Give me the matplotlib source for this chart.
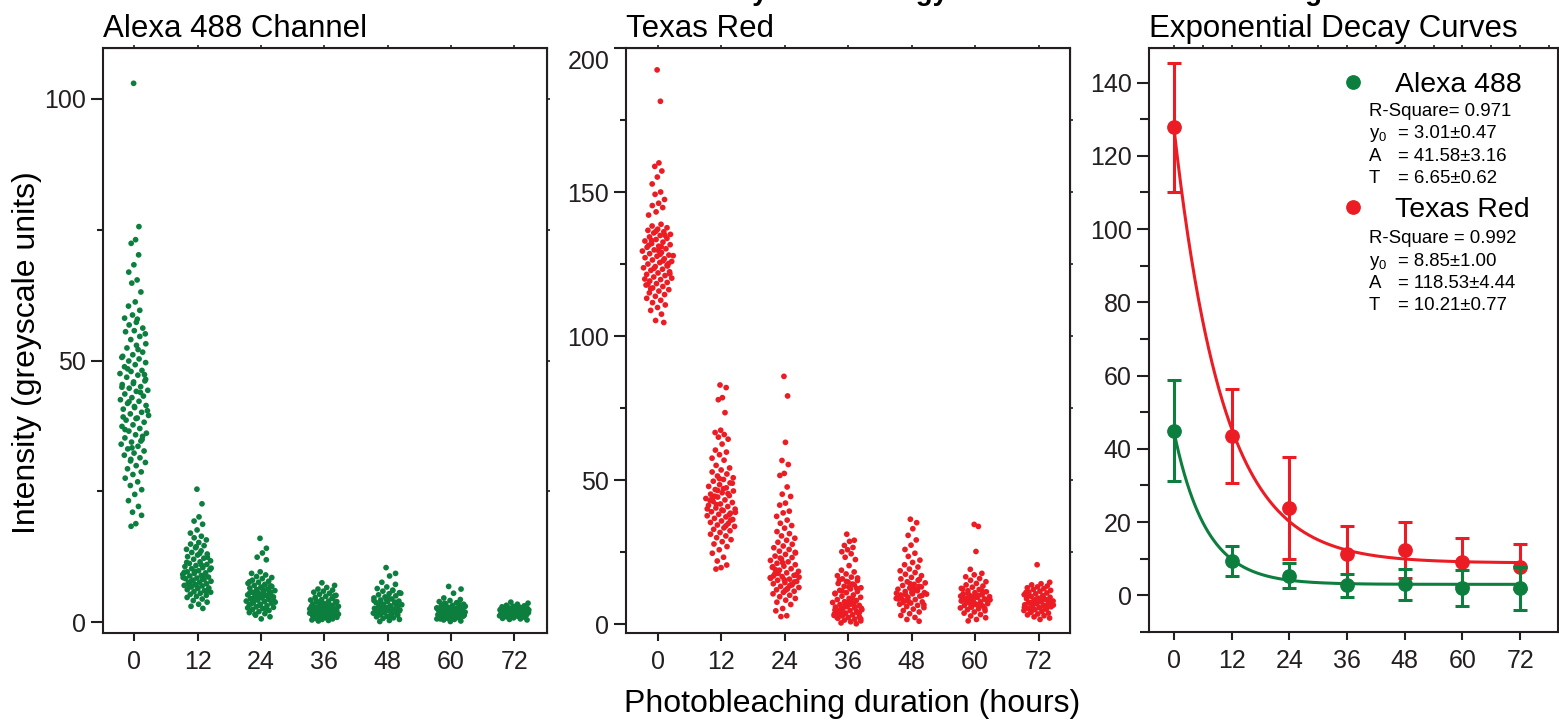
import numpy as np
import matplotlib
matplotlib.use("Agg")
import matplotlib.pyplot as plt
from matplotlib.lines import Line2D

plt.rcParams['font.family'] = ['Liberation Sans', 'DejaVu Sans']
plt.rcParams['mathtext.fontset'] = 'custom'
plt.rcParams['mathtext.rm'] = 'Liberation Sans'
plt.rcParams['mathtext.it'] = 'Liberation Sans'

# ---------------- data ----------------
hours = [0, 12, 24, 36, 48, 60, 72]
hour_labels = ['0', '12', '24', '36', '48', '60', '72']

alexa_0 = [103.0, 75.6, 73.1, 72.4, 70.2, 68.3, 66.9, 65.4, 64.8, 63.1, 61.2, 60.4, 59.6, 58.7, 58.1, 57.9,
           56.8, 56.2, 55.7, 55.5, 54.6, 54.0, 53.2, 52.9, 52.4, 51.6, 51.1, 50.8, 50.3, 49.9, 49.6, 49.2,
           48.8, 48.1, 47.9, 47.5, 47.2, 46.8, 46.1, 45.9, 45.4, 45.0, 44.7, 44.3, 44.1, 43.6, 43.2, 42.9,
           42.5, 42.2, 41.8, 41.4, 41.0, 40.7, 40.1, 39.8, 39.5, 39.0, 38.6, 38.2, 37.7, 37.4, 37.0, 36.5,
           36.1, 35.8, 35.2, 34.9, 34.4, 34.0, 33.6, 33.1, 32.7, 32.3, 31.9, 31.4, 30.8, 30.5, 29.9, 29.3,
           28.7, 28.2, 27.5, 26.8, 26.1, 25.3, 24.4, 23.2, 22.1, 21.0, 20.4, 18.8, 18.3, 47.3, 45.6, 44.9,
           43.9, 42.1, 40.4, 38.9, 36.8, 35.5, 33.3, 50.6, 52.1, 48.4, 46.4, 41.2, 39.2, 34.6, 31.1, 55.1, 57.3]
alexa_12 = [25.4, 22.6, 20.1, 19.3, 18.7, 17.6, 17.0, 16.4, 16.1, 15.7, 15.2, 14.9, 14.6, 14.2, 13.9, 13.6,
            13.3, 13.0, 12.8, 12.5, 12.2, 12.0, 11.7, 11.5, 11.2, 11.0, 10.8, 10.6, 10.4, 10.2, 10.0, 9.8,
            9.6, 9.4, 9.3, 9.1, 8.9, 8.8, 8.6, 8.4, 8.3, 8.1, 7.9, 7.8, 7.6, 7.5, 7.3, 7.2, 7.0, 6.9, 6.7,
            6.5, 6.4, 6.2, 6.0, 5.8, 5.7, 5.5, 5.3, 5.1, 4.9, 4.7, 4.4, 4.1, 3.8, 3.4, 3.0, 2.6, 9.7, 8.5,
            10.9, 7.7, 12.4, 6.6, 11.4, 9.0, 8.0, 10.3, 13.1, 7.1, 5.9, 14.4, 9.5, 8.2, 6.8]
alexa_24 = [16.0, 14.1, 13.2, 12.4, 11.9, 9.6, 9.3, 9.0, 8.7, 8.5, 8.3, 8.0, 7.8, 7.6, 7.4, 7.2, 7.0, 6.8,
            6.7, 6.5, 6.3, 6.1, 6.0, 5.8, 5.7, 5.5, 5.4, 5.2, 5.1, 4.9, 4.8, 4.6, 4.5, 4.3, 4.2, 4.0, 3.9,
            3.7, 3.6, 3.4, 3.3, 3.1, 2.9, 2.8, 2.6, 2.4, 2.2, 2.0, 1.8, 1.6, 1.3, 1.0, 0.6, 5.6, 4.7, 6.2,
            3.8, 5.0, 4.4, 6.9, 3.2, 7.7, 2.5, 5.3, 4.1, 6.4, 3.5, 5.9, 4.9, 2.7, 7.1, 1.5]
alexa_36 = [7.5, 7.0, 6.6, 6.3, 6.1, 5.9, 5.7, 5.5, 5.3, 5.1, 4.9, 4.7, 4.5, 4.3, 4.2, 4.0, 3.8, 3.7, 3.5,
            3.4, 3.2, 3.1, 3.0, 2.9, 2.8, 2.7, 2.6, 2.5, 2.4, 2.3, 2.2, 2.1, 2.0, 1.9, 1.8, 1.7, 1.6, 1.5,
            1.4, 1.3, 1.2, 1.1, 1.0, 0.9, 0.8, 0.7, 0.6, 0.5, 0.4, 0.3, 0.2, 2.6, 3.3, 1.8, 2.2, 3.6, 1.5,
            2.9, 4.1, 1.2, 2.4, 3.0, 0.9, 2.0, 3.9, 1.6, 2.7, 4.6, 1.0, 2.5, 3.4, 0.6, 5.0, 1.9, 2.8, 3.1]
alexa_48 = [10.4, 9.3, 8.8, 7.6, 7.2, 6.7, 6.4, 6.1, 5.9, 5.6, 5.4, 5.2, 5.0, 4.8, 4.6, 4.4, 4.2, 4.0, 3.9,
            3.7, 3.6, 3.4, 3.3, 3.1, 3.0, 2.9, 2.8, 2.6, 2.5, 2.4, 2.3, 2.2, 2.0, 1.9, 1.8, 1.7, 1.5, 1.4,
            1.3, 1.1, 1.0, 0.8, 0.7, 0.5, 0.3, 0.1, 3.2, 2.7, 4.1, 1.6, 3.5, 2.1, 4.7, 1.2, 3.8, 2.5, 5.5,
            0.9, 3.0, 2.3, 4.3, 1.8, 6.0, 2.9]
alexa_60 = [6.8, 6.3, 5.5, 4.6, 4.3, 4.1, 3.9, 3.7, 3.5, 3.4, 3.2, 3.1, 3.0, 2.8, 2.7, 2.6, 2.5, 2.4, 2.3,
            2.2, 2.1, 2.0, 1.9, 1.8, 1.7, 1.6, 1.5, 1.4, 1.3, 1.2, 1.1, 1.0, 0.9, 0.8, 0.7, 0.6, 0.5, 0.4,
            0.2, 0.1, 2.2, 1.7, 2.9, 1.3, 2.4, 0.9, 3.3, 1.9, 2.6, 1.1, 3.6, 1.5, 2.0, 0.6, 2.8, 1.4, 3.0,
            2.5, 1.0, 2.1]
alexa_72 = [3.8, 3.6, 3.4, 3.2, 3.1, 3.0, 2.9, 2.8, 2.7, 2.6, 2.5, 2.5, 2.4, 2.3, 2.3, 2.2, 2.1, 2.1, 2.0,
            2.0, 1.9, 1.9, 1.8, 1.8, 1.7, 1.7, 1.6, 1.6, 1.5, 1.5, 1.4, 1.4, 1.3, 1.3, 1.2, 1.2, 1.1, 1.0,
            0.9, 0.8, 0.7, 0.6, 0.5, 0.4, 2.2, 1.9, 2.6, 1.5, 2.4, 1.2, 2.0, 1.7, 2.8, 1.4, 2.1, 1.0, 2.3,
            1.8, 1.6, 2.7, 1.1, 2.0]

texas_0 = [192.4, 181.5, 160.1, 158.9, 157.3, 155.2, 152.8, 150.0, 149.2, 147.4, 146.1, 145.3, 144.6, 143.1,
           142.0, 138.8, 138.2, 137.6, 137.1, 136.7, 136.2, 135.8, 135.3, 134.9, 134.4, 133.9, 133.5, 133.0,
           132.6, 132.1, 131.7, 131.2, 130.8, 130.3, 129.9, 129.5, 129.0, 128.6, 128.1, 127.7, 127.2, 126.8,
           126.4, 125.9, 125.5, 125.0, 124.6, 124.1, 123.7, 123.2, 122.8, 122.3, 121.9, 121.4, 121.0, 120.5,
           120.1, 119.6, 119.1, 118.6, 118.2, 117.7, 117.2, 116.7, 116.1, 115.6, 115.0, 114.4, 113.8, 113.1,
           112.4, 111.6, 110.8, 109.9, 108.9, 107.6, 105.4, 104.7, 128.4, 131.5, 124.3, 136.4, 119.8, 126.1,
           133.2, 121.6, 129.7, 117.9, 135.0, 123.5, 127.9, 131.0, 116.4, 125.2]
texas_12 = [83.0, 82.1, 78.6, 77.9, 73.4, 67.3, 66.5, 65.8, 64.9, 64.2, 62.5, 60.4, 59.7, 58.8, 57.6, 56.9,
            55.1, 54.2, 53.5, 52.8, 52.1, 51.4, 50.8, 50.2, 49.6, 49.0, 48.4, 47.8, 47.3, 46.7, 46.2, 45.6,
            45.1, 44.6, 44.1, 43.6, 43.1, 42.6, 42.2, 41.7, 41.2, 40.8, 40.3, 39.9, 39.4, 39.0, 38.5, 38.1,
            37.6, 37.2, 36.7, 36.3, 35.8, 35.3, 34.9, 34.4, 33.9, 33.4, 32.9, 32.4, 31.8, 31.2, 30.6, 30.0,
            29.3, 28.6, 27.8, 26.9, 25.8, 24.6, 23.2, 21.9, 20.5, 19.6, 19.1, 45.3, 41.5, 38.8, 47.0, 43.4,
            36.0, 50.5, 40.0, 34.1, 44.4, 48.9, 39.6, 42.9, 37.9, 46.4]
texas_24 = [86.0, 79.2, 63.1, 56.8, 55.4, 52.3, 51.6, 47.6, 45.1, 44.3, 42.0, 41.3, 39.2, 38.6, 37.4, 36.1,
            35.0, 34.2, 33.3, 32.1, 31.4, 30.6, 29.8, 29.1, 28.4, 27.7, 27.1, 26.5, 25.9, 25.3, 24.7, 24.2,
            23.6, 23.1, 22.6, 22.1, 21.6, 21.1, 20.6, 20.1, 19.7, 19.2, 18.7, 18.3, 17.8, 17.4, 16.9, 16.5,
            16.1, 15.6, 15.2, 14.8, 14.4, 14.0, 13.6, 13.1, 12.7, 12.3, 11.9, 11.4, 11.0, 10.5, 10.0, 9.5,
            8.9, 8.3, 7.6, 6.8, 5.4, 4.6, 2.9, 2.6, 17.1, 15.4, 19.9, 13.8, 22.9, 16.3, 12.1, 18.9, 14.6,
            21.3, 15.9, 13.3, 17.6, 24.9, 11.7, 16.7]
texas_36 = [31.2, 29.1, 28.7, 27.3, 26.6, 25.8, 25.1, 24.4, 23.2, 22.4, 20.3, 18.7, 18.1, 17.4, 16.8, 16.3,
            15.7, 15.1, 14.6, 14.1, 13.6, 13.1, 12.6, 12.2, 11.7, 11.3, 10.9, 10.5, 10.1, 9.7, 9.3, 8.9, 8.5,
            8.2, 7.8, 7.5, 7.1, 6.8, 6.5, 6.2, 5.9, 5.6, 5.3, 5.0, 4.7, 4.4, 4.1, 3.8, 3.5, 3.2, 2.9, 2.6,
            2.3, 2.0, 1.7, 1.4, 1.1, 0.8, 0.4, 0.1, 6.1, 4.9, 7.3, 3.6, 5.5, 8.1, 2.7, 4.3, 6.6, 3.0, 9.0,
            5.1, 4.0, 7.0, 2.4, 5.8, 3.3, 1.8, 6.9, 4.6, 12.4, 14.8, 10.7, 13.9, 11.5, 16.0, 12.9, 15.3]
texas_48 = [36.4, 35.2, 33.1, 30.8, 29.2, 27.4, 25.9, 24.6, 23.5, 22.2, 21.4, 20.6, 19.8, 19.1, 18.5, 17.9,
            17.3, 16.8, 16.2, 15.7, 15.2, 14.7, 14.3, 13.8, 13.4, 12.9, 12.5, 12.1, 11.7, 11.3, 10.9, 10.5,
            10.1, 9.7, 9.3, 8.9, 8.5, 8.1, 7.7, 7.3, 6.9, 6.5, 6.1, 5.7, 5.2, 4.7, 4.2, 3.6, 3.0, 2.3, 1.6,
            1.0, 11.0, 9.5, 13.1, 8.3, 10.4, 12.2, 7.5, 9.9, 14.0, 8.7, 11.6, 10.2, 6.7, 12.7, 9.1, 15.5,
            7.9, 10.7]
texas_60 = [34.6, 33.9, 25.2, 19.0, 17.6, 17.1, 16.4, 15.8, 15.2, 14.7, 14.1, 13.6, 13.2, 12.8, 12.4, 12.0,
            11.6, 11.2, 10.9, 10.5, 10.2, 9.8, 9.5, 9.2, 8.9, 8.6, 8.3, 8.0, 7.7, 7.4, 7.1, 6.8, 6.5, 6.2,
            5.9, 5.6, 5.3, 5.0, 4.6, 4.2, 3.8, 3.3, 2.8, 2.2, 1.6, 1.1, 8.7, 7.5, 9.7, 6.6, 10.6, 8.1, 7.0,
            9.0, 11.4, 6.0, 8.4, 10.0, 7.8, 5.4, 9.4, 12.2, 6.9, 8.8]
texas_72 = [20.6, 14.5, 14.0, 13.6, 13.2, 12.9, 12.6, 12.3, 12.0, 11.7, 11.4, 11.1, 10.8, 10.5, 10.2, 9.9,
            9.6, 9.3, 9.0, 8.8, 8.5, 8.2, 8.0, 7.7, 7.5, 7.2, 7.0, 6.7, 6.5, 6.2, 6.0, 5.7, 5.5, 5.2, 5.0,
            4.7, 4.4, 4.1, 3.8, 3.5, 3.2, 2.9, 2.5, 2.1, 1.6, 7.4, 6.3, 8.6, 5.8, 9.4, 7.1, 6.8, 8.1, 10.0,
            5.3, 7.9, 6.6, 9.1, 4.9, 8.4, 7.3, 11.0, 6.1]

alexa_groups = [alexa_0, alexa_12, alexa_24, alexa_36, alexa_48, alexa_60, alexa_72]
texas_groups = [texas_0, texas_12, texas_24, texas_36, texas_48, texas_60, texas_72]

alexa_mean = [45.0, 9.4, 5.3, 2.7, 3.0, 2.0, 1.9]
alexa_sd = [13.8, 4.0, 3.4, 3.1, 4.2, 4.9, 5.9]
texas_mean = [127.8, 43.5, 23.9, 11.2, 12.4, 9.1, 7.8]
texas_sd = [17.6, 12.9, 14.0, 7.8, 7.7, 6.6, 6.1]

alexa_fit = dict(r2='0.971', y0=3.01, y0e=0.47, A=41.58, Ae=3.16, T=6.65, Te=0.62)
texas_fit = dict(r2='0.992', y0=8.85, y0e=1.00, A=118.53, Ae=4.44, T=10.21, Te=0.77)

GREEN = '#0c7f3f'
RED = '#ec1c24'
INK = '#231f20'

# ---------------- figure ----------------
W, H = 1559, 721
fig = plt.figure(figsize=(W / 100, H / 100), dpi=100)


def px_axes(l, r, t, b):
    return fig.add_axes([l / W, (H - b) / H, (r - l) / W, (b - t) / H])


ax1 = px_axes(103.2, 546.6, 48, 633)
ax2 = px_axes(626.3, 1069.7, 48, 633)
ax3 = px_axes(1149.3, 1557.7, 47.7, 632)


def strip_offsets(vals, half_width, bw):
    v = np.asarray(vals, dtype=float)
    dens = np.exp(-0.5 * ((v[:, None] - v[None, :]) / bw) ** 2).sum(axis=1)
    dens = dens / dens.max()
    scale = np.clip(dens ** 0.5, 0.12, 1.0)
    u = ((np.arange(len(v)) * 0.6180339887 + 0.37) % 1.0) * 2 - 1
    return u * half_width * scale


def style_axes(ax, xlim, ylim, ymaj, ymin, ylen=8.6, yminlen=4.5):
    ax.set_xlim(*xlim)
    ax.set_ylim(*ylim)
    ax.set_xticks(hours)
    ax.set_xticklabels(hour_labels)
    ax.set_yticks(ymaj)
    ax.set_yticks(ymin, minor=True)
    for s in ax.spines.values():
        s.set_linewidth(1.5)
        s.set_color(INK)
    ax.tick_params(axis='x', which='major', length=5.8, width=1.5, pad=6.5,
                   labelsize=18, colors=INK, direction='out')
    ax.tick_params(axis='y', which='major', length=ylen, width=1.5, pad=4,
                   labelsize=18, colors=INK, direction='out')
    ax.tick_params(axis='y', which='minor', length=yminlen, width=1.5, colors=INK, direction='out')
    ax.tick_params(axis='x', which='minor', bottom=False)


# Panel 1 : Alexa 488
for h, vals in zip(hours, alexa_groups):
    xs = h + strip_offsets(vals, 2.85, 3.0)
    ax1.scatter(xs, vals, s=17, color=GREEN, edgecolors='none', zorder=3)
style_axes(ax1, (-5.91, 78.1), (-2.1, 109.75), [0, 50, 100], [25, 75])
ax1.set_title('Alexa 488 Channel', loc='left', fontsize=22.5, pad=7.9, color='black')
ax1.set_ylabel('Intensity (greyscale units)', fontsize=23, color='black')
ax1.yaxis.set_label_coords(-0.138, 0.4786)

# Panel 2 : Texas Red
for h, vals in zip(hours, texas_groups):
    xs = h + strip_offsets(vals, 2.95, 5.0)
    ax2.scatter(xs, vals, s=17, color=RED, edgecolors='none', zorder=3)
style_axes(ax2, (-5.96, 77.9), (-3.1, 200.0), [0, 50, 100, 150, 200], [25, 75, 125, 175])
ax2.set_yticklabels(['0', '50', '100', '150', ''])
ax2.annotate('200', xy=(0, 200), xycoords=('axes fraction', 'data'),
             xytext=(-17, -14), textcoords='offset pixels', ha='right', va='center',
             fontsize=18, color=INK, annotation_clip=False)
ax2.set_title('Texas Red', loc='left', fontsize=22.5, pad=7.9, color='black')

# Panel 3 : decay curves
style_axes(ax3, (-5.14, 79.8), (-9.8, 149.5), list(range(0, 141, 20)), list(range(-10, 150, 20)),
           ylen=8.6, yminlen=6.5)
ax3.set_title('Exponential Decay Curves', loc='left', fontsize=22.5, pad=7.9, color='black')

tt = np.linspace(0, 72, 400)
for fit, col in ((texas_fit, RED), (alexa_fit, GREEN)):
    ax3.plot(tt, fit['y0'] + fit['A'] * np.exp(-tt / fit['T']), color=col, lw=2.2, zorder=2)

ax3.errorbar(hours, texas_mean, yerr=texas_sd, fmt='o', ms=9.6, color=RED, ecolor=RED,
             elinewidth=2.2, capsize=4.8, capthick=2.2, zorder=3)
ax3.errorbar(hours, alexa_mean, yerr=alexa_sd, fmt='o', ms=9.6, color=GREEN, ecolor=GREEN,
             elinewidth=2.2, capsize=4.8, capthick=2.2, zorder=4)

# small mirror ticks on top / right
for ax, yt in ((ax1, [25, 50, 75, 100]), (ax2, [25, 50, 75, 100, 125, 150, 175])):
    top = ax.secondary_xaxis('top')
    top.set_xticks(hours)
    top.set_xticklabels([])
    top.tick_params(length=2.5, width=1.2, colors=INK)
    right = ax.secondary_yaxis('right')
    right.set_yticks(yt)
    right.set_yticklabels([])
    right.tick_params(length=2.5, width=1.2, colors=INK)
top3 = ax3.secondary_xaxis('top')
top3.set_xticks(list(range(0, 79, 6)))
top3.set_xticklabels([])
top3.tick_params(length=2.5, width=1.2, colors=INK)

# legend of panel 3
handles = [Line2D([], [], marker='o', ls='none', ms=9.6, color=GREEN),
           Line2D([], [], marker='o', ls='none', ms=9.6, color=RED)]
leg = fig.legend(handles, ['Alexa 488', 'Texas Red'], loc='upper left',
                 bbox_to_anchor=(1338.75 / W, 1 - 71.6 / H), bbox_transform=fig.transFigure,
                 frameon=False, fontsize=20.5, borderpad=0, borderaxespad=0,
                 handlelength=1.0, handletextpad=0.974, labelspacing=3.48)


def fy(py):
    return 1 - py / H


def stats_block(fit, base_ys, r2_label):
    x_lab, x_eq = 1369 / W, 1398 / W
    kw = dict(fontsize=13.4, color='black', va='baseline', ha='left')
    fig.text(x_lab, fy(base_ys[0]), r2_label + fit['r2'], **kw)
    fig.text(x_lab, fy(base_ys[1]), r'$\mathregular{y_0}$', **kw)
    fig.text(x_eq, fy(base_ys[1]), '= %.2f\u00b1%.2f' % (fit['y0'], fit['y0e']), **kw)
    fig.text(x_lab, fy(base_ys[2]), 'A', **kw)
    fig.text(x_eq, fy(base_ys[2]), '= %.2f\u00b1%.2f' % (fit['A'], fit['Ae']), **kw)
    fig.text(x_lab, fy(base_ys[3]), 'T', **kw)
    fig.text(x_eq, fy(base_ys[3]), '= %.2f\u00b1%.2f' % (fit['T'], fit['Te']), **kw)


stats_block(alexa_fit, [115.7, 138.4, 160.7, 183.4], 'R-Square= ')
stats_block(texas_fit, [243.4, 265.7, 287.7, 309.7], 'R-Square = ')

# shared x label
fig.text(852 / W, fy(712), 'Photobleaching duration (hours)', fontsize=23,
         ha='center', va='baseline', color='black')

# overall title (cut off at the top edge of the figure, as in the reference)
fig.text(0.5, 1.0, 'Alexa 488 and Texas Red: Photostability Methodology and Time-Course Bleaching',
         fontsize=20, fontweight='bold', ha='center', va='baseline', color='black')

fig.savefig('out.png', dpi=100)
